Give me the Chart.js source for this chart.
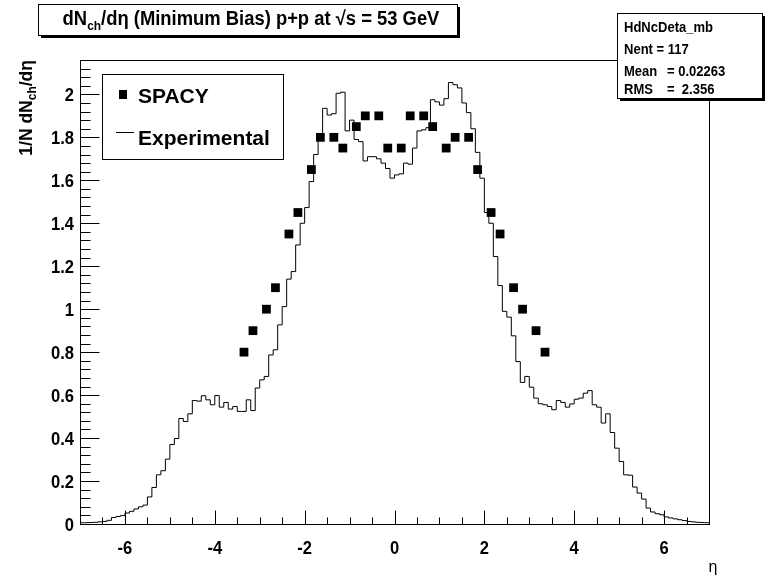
<!DOCTYPE html>
<html>
<head>
  <title>dNch/deta p+p 53 GeV</title>
  <meta charset="utf-8" />
  <style>
    html, body { margin: 0; padding: 0; background: #fff; }
    #wrap { width: 765px; height: 583px; }
  </style>
</head>
<body>
<div id="wrap"><canvas id="graph" width="765" height="583"></canvas></div>

<script src="https://cdn.jsdelivr.net/npm/chart.js"></script>
<script>
  // experimental histogram: 140 bins of width 0.1 from -7 to 7
  var etaMin = -7, etaMax = 7, binWidth = 0.1;
  var expValues = [
    0.006, 0.006, 0.007, 0.008, 0.010, 0.012, 0.017, 0.030, 0.035, 0.039,
    0.051, 0.059, 0.070, 0.080, 0.088, 0.126, 0.170, 0.229, 0.248, 0.302,
    0.370, 0.398, 0.491, 0.477, 0.513, 0.575, 0.572, 0.597, 0.578, 0.555,
    0.598, 0.544, 0.566, 0.535, 0.547, 0.524, 0.524, 0.578, 0.528, 0.633,
    0.671, 0.687, 0.787, 0.811, 0.927, 1.012, 1.140, 1.175, 1.299, 1.400,
    1.473, 1.594, 1.720, 1.800, 1.935, 1.904, 1.910, 2.005, 2.010, 1.830,
    1.880, 1.790, 1.780, 1.690, 1.710, 1.710, 1.700, 1.680, 1.655, 1.610,
    1.625, 1.630, 1.680, 1.675, 1.750, 1.830, 1.835, 1.845, 1.975, 1.965,
    1.950, 1.980, 2.055, 2.045, 2.030, 1.960, 1.915, 1.840, 1.730, 1.610,
    1.450, 1.400, 1.245, 1.110, 0.990, 0.963, 0.876, 0.756, 0.659, 0.687,
    0.637, 0.586, 0.560, 0.555, 0.547, 0.532, 0.575, 0.566, 0.544, 0.559,
    0.581, 0.586, 0.609, 0.621, 0.555, 0.544, 0.470, 0.513, 0.426, 0.353,
    0.291, 0.229, 0.227, 0.172, 0.144, 0.116, 0.074, 0.056, 0.048, 0.043,
    0.033, 0.028, 0.024, 0.020, 0.016, 0.012, 0.010, 0.008, 0.007, 0.006
  ];

  // SPACY model points
  var spacyEta = [-3.35, -3.15, -2.85, -2.65, -2.35, -2.15, -1.85, -1.65, -1.35, -1.15,
                  -0.85, -0.65, -0.35, -0.15, 0.15, 0.35, 0.65, 0.85, 1.15, 1.35,
                  1.65, 1.85, 2.15, 2.35, 2.65, 2.85, 3.15, 3.35];
  var spacyValues = [0.80, 0.90, 1.00, 1.10, 1.35, 1.45, 1.65, 1.80, 1.80, 1.75,
                     1.85, 1.90, 1.90, 1.75, 1.75, 1.90, 1.90, 1.85, 1.75, 1.80,
                     1.80, 1.65, 1.45, 1.35, 1.10, 1.00, 0.90, 0.80];

  var xTickValues = [-6, -4, -2, 0, 2, 4, 6];
  var yTickValues = [0, 0.2, 0.4, 0.6, 0.8, 1, 1.2, 1.4, 1.6, 1.8, 2];
  var yMax = 2.16;

  var statsLines = [
    ['HdNcDeta_mb', ''],
    ['Nent = 117', ''],
    ['Mean', '= 0.02263'],
    ['RMS', '=  2.356']
  ];

  // stepped line through the low edge of every bin, closed at the last edge
  var histPoints = expValues.map(function(v, i) {
    return { x: etaMin + i * binWidth, y: v };
  });
  histPoints.push({ x: etaMax, y: expValues[expValues.length - 1] });

  var spacyPoints = spacyEta.map(function(e, i) {
    return { x: e, y: spacyValues[i] };
  });

  var FONT = "'Liberation Sans', Arial, Helvetica, sans-serif";

  // draws text made of pieces (normal + subscript), aligned on x,
  // optionally squeezed horizontally like the narrow ROOT helvetica
  function drawRich(ctx, parts, x, y, align, squeeze) {
    var k = squeeze || 1;
    var total = 0;
    parts.forEach(function(p) {
      ctx.font = (p.bold === false ? '' : 'bold ') + p.size + 'px ' + FONT;
      p.w = ctx.measureText(p.t).width;
      total += p.w;
    });
    var cx = align === 'center' ? -total / 2 : (align === 'right' ? -total : 0);
    ctx.save();
    ctx.translate(x, y);
    ctx.scale(k, 1);
    ctx.textAlign = 'left';
    ctx.textBaseline = 'alphabetic';
    parts.forEach(function(p) {
      ctx.font = (p.bold === false ? '' : 'bold ') + p.size + 'px ' + FONT;
      ctx.fillText(p.t, cx, p.dy || 0);
      cx += p.w;
    });
    ctx.restore();
  }

  function shadowBox(ctx, l, t, r, b, sh) {
    ctx.fillStyle = '#000';
    ctx.fillRect(l + sh, t + sh, r - l, b - t);
    ctx.fillStyle = '#fff';
    ctx.fillRect(l, t, r - l, b - t);
    ctx.strokeStyle = '#000';
    ctx.lineWidth = 1;
    ctx.strokeRect(l + 0.5, t + 0.5, r - l, b - t);
  }

  var rootFrame = {
    id: 'rootFrame',
    afterDraw: function(chart) {
      var ctx = chart.ctx;
      var a = chart.chartArea;
      var sx = chart.scales.x, sy = chart.scales.y;
      ctx.save();
      ctx.strokeStyle = '#000';
      ctx.lineWidth = 1;

      // frame
      var L = Math.round(a.left) + 0.5, R = Math.round(a.right) + 0.5;
      var T = Math.round(a.top) + 0.5, B = Math.round(a.bottom) + 0.5;
      ctx.strokeRect(L, T, R - L, B - T);

      // ticks drawn inwards
      ctx.beginPath();
      for (var i = -13; i <= 13; i++) {
        var px = Math.round(sx.getPixelForValue(i / 2)) + 0.5;
        var len = (i % 4 === 0) ? 14 : 7;
        ctx.moveTo(px, B);
        ctx.lineTo(px, B - len);
      }
      for (var j = 1; j * 0.04 < yMax; j++) {
        var py = Math.round(sy.getPixelForValue(j * 0.04)) + 0.5;
        var ylen = (j % 5 === 0) ? 19 : 10;
        ctx.moveTo(L, py);
        ctx.lineTo(L + ylen, py);
      }
      ctx.stroke();

      ctx.fillStyle = '#000';

      // tick labels
      sx.ticks.forEach(function(t) {
        drawRich(ctx, [{ t: String(t.value), size: 18 }], sx.getPixelForValue(t.value), 554, 'center', 0.92);
      });
      sy.ticks.forEach(function(t) {
        drawRich(ctx, [{ t: String(+t.value.toFixed(1)), size: 18 }], 74, sy.getPixelForValue(t.value) + 6.5, 'right', 0.92);
      });

      // axis titles
      ctx.save();
      ctx.translate(32, a.top);
      ctx.rotate(-Math.PI / 2);
      drawRich(ctx, [
        { t: '1/N dN', size: 17.5 },
        { t: 'ch', size: 12, dy: 4 },
        { t: '/d\u03b7', size: 17.5 }
      ], 0, 0, 'right');
      ctx.restore();
      drawRich(ctx, [{ t: '\u03b7', size: 16, bold: false }], 713, 572, 'center');

      // title box
      shadowBox(ctx, 38, 4, 457, 35, 3);
      ctx.fillStyle = '#000';
      drawRich(ctx, [
        { t: 'dN', size: 20 },
        { t: 'ch', size: 13, dy: 5 },
        { t: '/d\u03b7 (Minimum Bias) p+p at \u221as = 53 GeV', size: 20 }
      ], 251, 25, 'center', 0.92);

      // statistics box
      shadowBox(ctx, 617, 13, 762, 98, 3);
      ctx.fillStyle = '#000';
      var base = [32, 54, 76, 94];
      statsLines.forEach(function(s, k) {
        drawRich(ctx, [{ t: s[0], size: 14 }], 624, base[k], 'left', 0.93);
        if (s[1]) drawRich(ctx, [{ t: s[1], size: 14 }], 667, base[k], 'left', 0.93);
      });

      // legend
      ctx.fillStyle = '#fff';
      ctx.fillRect(102, 74, 181, 85);
      ctx.strokeRect(102.5, 74.5, 181, 85);
      var ds = chart.data.datasets;
      ctx.fillStyle = '#000';
      ctx.fillRect(119, 90, 8, 9);
      drawRich(ctx, [{ t: ds[0].label, size: 21 }], 138, 103, 'left');
      ctx.beginPath();
      ctx.moveTo(116, 132.5);
      ctx.lineTo(134, 132.5);
      ctx.stroke();
      drawRich(ctx, [{ t: ds[1].label, size: 21 }], 138, 145, 'left');

      ctx.restore();
    }
  };

  var chart = new Chart(document.getElementById('graph').getContext('2d'), {
    type: 'scatter',
    data: {
      datasets: [{
        label: 'SPACY',
        data: spacyPoints,
        pointStyle: 'rect',
        pointRadius: 6.2,
        pointHoverRadius: 6.2,
        backgroundColor: '#000',
        borderWidth: 0,
        showLine: false,
        order: 0
      }, {
        label: 'Experimental',
        data: histPoints,
        showLine: true,
        stepped: 'before',
        borderColor: '#000',
        borderWidth: 1,
        pointRadius: 0,
        fill: false,
        order: 1
      }]
    },
    options: {
      responsive: false,
      animation: false,
      events: [],
      layout: { padding: { top: 60, right: 56, left: 0, bottom: 0 } },
      plugins: { legend: { display: false }, tooltip: { enabled: false } },
      scales: {
        x: {
          type: 'linear',
          min: etaMin,
          max: etaMax,
          grid: { display: false, drawTicks: false },
          border: { display: false },
          afterBuildTicks: function(s) {
            s.ticks = xTickValues.map(function(v) { return { value: v }; });
          },
          afterFit: function(s) { s.height = 59; },
          ticks: { display: false }
        },
        y: {
          type: 'linear',
          min: 0,
          max: yMax,
          grid: { display: false, drawTicks: false },
          border: { display: false },
          afterBuildTicks: function(s) {
            s.ticks = yTickValues.map(function(v) { return { value: v }; });
          },
          afterFit: function(s) { s.width = 80; },
          ticks: { display: false }
        }
      }
    },
    plugins: [rootFrame]
  });
</script>
</body>
</html>
